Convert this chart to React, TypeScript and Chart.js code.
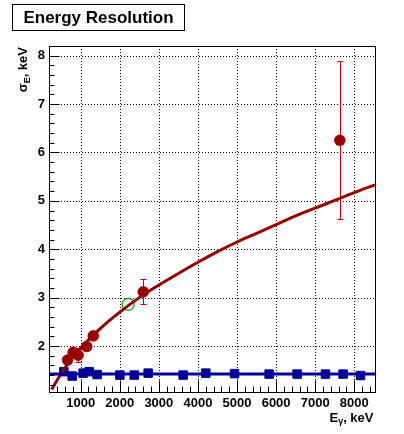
import { useEffect, useRef } from "react";
import { Chart, registerables } from "chart.js";

Chart.register(...registerables);

// Axis ranges and tick labels
const X_MIN = 190;
const X_MAX = 8530;
const Y_MIN = 1.05;
const Y_MAX = 8.2;
const xMajorTicks = [1000, 2000, 3000, 4000, 5000, 6000, 7000, 8000];
const yMajorTicks = [2, 3, 4, 5, 6, 7, 8];
const xMinorStep = 200;
const yMinorStep = 0.2;

// Measured gamma peaks: energy (keV), sigma (keV) and its error
const peakEnergy = [665, 808, 935, 1154, 1323, 2600, 7630];
const peakSigma = [1.71, 1.87, 1.81, 1.99, 2.21, 3.12, 6.25];
const peakSigmaErr = [0.04, 0.05, 0.14, 0.05, 0.05, 0.26, 1.63];

// Cross-check peak (open marker)
const checkEnergy = [2215];
const checkSigma = [2.86];

// Pulser resolution at several amplitudes and its constant fit
const pulserEnergy = [570, 783, 1064, 1218, 1422, 2003, 2370, 2727, 3622, 4202, 4936, 5821, 6537, 7263, 7714, 8159];
const pulserSigma = [1.47, 1.38, 1.44, 1.47, 1.41, 1.4, 1.4, 1.44, 1.4, 1.44, 1.43, 1.42, 1.42, 1.42, 1.42, 1.39];
const pulserFitSigma = 1.42;

// Resolution fit curve through the gamma peaks
const fitEnergy = [258, 400, 500, 750, 1000, 1500, 2000, 2500, 3000, 3500, 4000, 4500, 5000, 5500, 6000, 6500, 7000, 7500, 8000, 8530];
const fitSigma = [1.1, 1.3, 1.43, 1.72, 1.96, 2.36, 2.7, 3.0, 3.26, 3.5, 3.73, 3.95, 4.15, 4.33, 4.51, 4.69, 4.85, 5.01, 5.17, 5.33];

const RED = "#990000";
const RED_ERR = "#bb0000";
const BLUE = "#000099";
const GREEN = "#009900";
const FONT = "'Liberation Sans', Arial, Helvetica, sans-serif";

const zip = (xs: number[], ys: number[]) => xs.map((x, i) => ({ x, y: ys[i] }));

const gridPlugin = {
  id: "dottedGrid",
  beforeDatasetsDraw(chart: any) {
    const { ctx, chartArea: a, scales } = chart;
    ctx.save();
    ctx.strokeStyle = "#000";
    ctx.lineWidth = 1;
    ctx.setLineDash([1, 2]);
    for (const v of xMajorTicks) {
      const px = Math.round(scales.x.getPixelForValue(v)) + 0.5;
      ctx.beginPath();
      ctx.moveTo(px, a.top);
      ctx.lineTo(px, a.bottom);
      ctx.stroke();
    }
    for (const v of yMajorTicks) {
      const py = Math.round(scales.y.getPixelForValue(v)) + 0.5;
      ctx.beginPath();
      ctx.moveTo(a.left, py);
      ctx.lineTo(a.right, py);
      ctx.stroke();
    }
    ctx.restore();
  },
};

const errorBarPlugin = {
  id: "errorBars",
  beforeDatasetDraw(chart: any, args: any) {
    if (args.index !== 3) return;
    const { ctx, scales } = chart;
    ctx.save();
    ctx.strokeStyle = RED_ERR;
    ctx.lineWidth = 1;
    const r = 5.5;
    const cap = 3;
    peakEnergy.forEach((e, i) => {
      const px = Math.round(scales.x.getPixelForValue(e)) + 0.5;
      const py = scales.y.getPixelForValue(peakSigma[i]);
      const top = scales.y.getPixelForValue(peakSigma[i] + peakSigmaErr[i]);
      const bot = scales.y.getPixelForValue(peakSigma[i] - peakSigmaErr[i]);
      if (py - top > r) {
        ctx.beginPath();
        ctx.moveTo(px, py - r);
        ctx.lineTo(px, top);
        ctx.moveTo(px - cap, Math.round(top) + 0.5);
        ctx.lineTo(px + cap, Math.round(top) + 0.5);
        ctx.stroke();
      }
      if (bot - py > r) {
        ctx.beginPath();
        ctx.moveTo(px, py + r);
        ctx.lineTo(px, bot);
        ctx.moveTo(px - cap, Math.round(bot) + 0.5);
        ctx.lineTo(px + cap, Math.round(bot) + 0.5);
        ctx.stroke();
      }
    });
    ctx.restore();
  },
};

const framePlugin = {
  id: "frameAndLabels",
  afterDraw(chart: any) {
    const { ctx, chartArea: a, scales } = chart;
    ctx.save();
    ctx.strokeStyle = "#000";
    ctx.lineWidth = 1;
    ctx.setLineDash([]);
    ctx.strokeRect(Math.round(a.left) + 0.5, Math.round(a.top) + 0.5, Math.round(a.right - a.left), Math.round(a.bottom - a.top));

    // ticks inside the frame
    ctx.beginPath();
    const bottom = Math.round(a.bottom) + 0.5;
    for (let v = Math.ceil(X_MIN / xMinorStep) * xMinorStep; v < X_MAX; v += xMinorStep) {
      const major = xMajorTicks.includes(Math.round(v));
      const px = Math.round(scales.x.getPixelForValue(v)) + 0.5;
      ctx.moveTo(px, bottom);
      ctx.lineTo(px, bottom - (major ? 12 : 6));
    }
    const left = Math.round(a.left) + 0.5;
    for (let k = Math.ceil(Y_MIN / yMinorStep); k * yMinorStep < Y_MAX - 1e-6; k++) {
      const v = k * yMinorStep;
      const major = yMajorTicks.some((t) => Math.abs(t - v) < 1e-6);
      const py = Math.round(scales.y.getPixelForValue(v)) + 0.5;
      ctx.moveTo(left, py);
      ctx.lineTo(left + (major ? 10 : 5), py);
    }
    ctx.stroke();

    // title box
    ctx.fillStyle = "#fff";
    ctx.fillRect(12.5, 4.5, 172, 26);
    ctx.strokeRect(12.5, 4.5, 172, 26);
    ctx.fillStyle = "#000";
    ctx.font = `bold 17px ${FONT}`;
    ctx.textAlign = "center";
    ctx.textBaseline = "alphabetic";
    ctx.fillText("Energy Resolution", 98.5, 23);

    // axis titles with subscripts
    const main = `bold 13px ${FONT}`;
    const sub = `bold 9px ${FONT}`;
    ctx.textAlign = "left";

    // x title, right aligned to the frame
    ctx.font = main;
    const wE = ctx.measureText("E").width;
    const wRest = ctx.measureText(", keV").width;
    ctx.font = sub;
    const wG = ctx.measureText("γ").width;
    const x0 = 373.5 - (wE + wG + wRest);
    const base = 421.5;
    ctx.font = main;
    ctx.fillText("E", x0, base);
    ctx.font = sub;
    ctx.fillText("γ", x0 + wE, base + 2);
    ctx.font = main;
    ctx.fillText(", keV", x0 + wE + wG, base);

    // y title, rotated, ending at the top of the frame
    ctx.save();
    ctx.translate(27, 47);
    ctx.rotate(-Math.PI / 2);
    ctx.font = main;
    const wS = ctx.measureText("σ").width;
    const wR = ctx.measureText(", keV").width;
    ctx.font = sub;
    const wSubE = ctx.measureText("E").width;
    const s0 = -(wS + wSubE + wR);
    ctx.font = main;
    ctx.fillText("σ", s0, 0);
    ctx.font = sub;
    ctx.fillText("E", s0 + wS, 3);
    ctx.font = main;
    ctx.fillText(", keV", s0 + wS + wSubE, 0);
    ctx.restore();

    ctx.restore();
  },
};

export default function App() {
  const ref = useRef<HTMLCanvasElement>(null);

  useEffect(() => {
    const canvas = ref.current;
    if (!canvas) return;
    const tickFont = { family: FONT, size: 13, weight: "bold" as const };
    const chart = new Chart(canvas, {
      type: "scatter",
      data: {
        datasets: [
          {
            type: "line",
            data: [
              { x: X_MIN, y: pulserFitSigma },
              { x: X_MAX, y: pulserFitSigma },
            ],
            borderColor: BLUE,
            borderWidth: 3,
            pointRadius: 0,
            fill: false,
          },
          {
            type: "line",
            data: zip(fitEnergy, fitSigma),
            borderColor: RED,
            borderWidth: 3,
            pointRadius: 0,
            fill: false,
            cubicInterpolationMode: "monotone",
          },
          {
            data: zip(pulserEnergy, pulserSigma),
            pointStyle: "rect",
            pointRadius: 6,
            backgroundColor: BLUE,
            borderColor: BLUE,
            borderWidth: 1,
          },
          {
            data: zip(peakEnergy, peakSigma),
            pointStyle: "circle",
            pointRadius: 5.5,
            backgroundColor: RED,
            borderColor: RED,
            borderWidth: 0.5,
          },
          {
            data: zip(checkEnergy, checkSigma),
            pointStyle: "circle",
            pointRadius: 6,
            backgroundColor: "rgba(0,0,0,0)",
            borderColor: GREEN,
            borderWidth: 1.2,
          },
        ],
      },
      options: {
        animation: false,
        responsive: false,
        devicePixelRatio: 1,
        layout: { padding: { top: 46, right: 29, left: 0, bottom: 0 } },
        plugins: {
          legend: { display: false },
          tooltip: { enabled: false },
          title: { display: false },
        },
        scales: {
          x: {
            type: "linear",
            min: X_MIN,
            max: X_MAX,
            afterBuildTicks: (s: any) => {
              s.ticks = xMajorTicks.map((value) => ({ value }));
            },
            afterFit: (s: any) => {
              s.height = 42;
            },
            grid: { display: false, drawTicks: false },
            border: { display: false },
            ticks: {
              font: tickFont,
              color: "#000",
              padding: 4,
              maxRotation: 0,
              autoSkip: false,
              callback: (v: any) => String(v),
            },
          },
          y: {
            type: "linear",
            min: Y_MIN,
            max: Y_MAX,
            afterBuildTicks: (s: any) => {
              s.ticks = yMajorTicks.map((value) => ({ value }));
            },
            afterFit: (s: any) => {
              s.width = 49;
            },
            grid: { display: false, drawTicks: false },
            border: { display: false },
            ticks: { font: tickFont, color: "#000", padding: 4, autoSkip: false, callback: (v: any) => String(v) },
          },
        },
      },
      plugins: [gridPlugin, errorBarPlugin, framePlugin],
    } as any);
    return () => chart.destroy();
  }, []);

  return (
    <div style={{ position: "fixed", left: 0, top: 0, width: 404, height: 434, background: "#fff" }}>
      <canvas ref={ref} width={404} height={434} style={{ display: "block" }} />
    </div>
  );
}
